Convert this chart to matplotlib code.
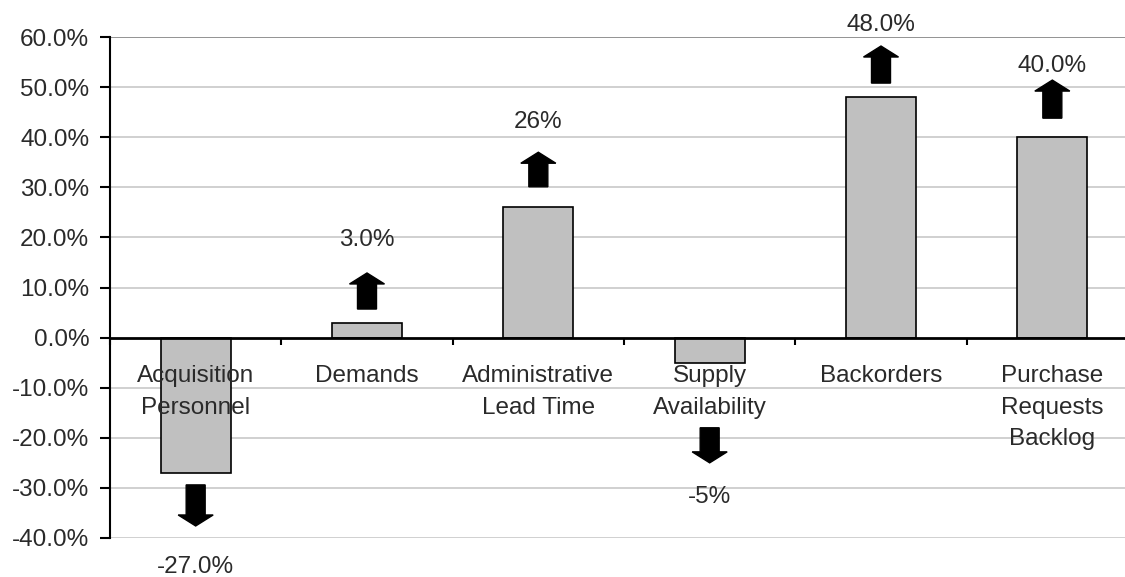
import matplotlib
matplotlib.use("Agg")
import matplotlib.pyplot as plt
from matplotlib.ticker import FuncFormatter

categories = ["Acquisition\nPersonnel", "Demands", "Administrative\nLead Time",
              "Supply\nAvailability", "Backorders", "Purchase\nRequests\nBacklog"]
values = [-27.0, 3.0, 26.0, -5.0, 48.0, 40.0]
arrow_start = [-29.4, 5.7, 30.1, -18.0, 50.8, 43.8]
arrow_end = [-37.6, 12.9, 37.0, -25.0, 58.2, 51.4]
label_pos = [-45.8, 19.5, 43.0, -31.9, 62.4, 54.2]
labels = ["-27.0%", "3.0%", "26%", "-5%", "48.0%", "40.0%"]
yticks = [-40, -30, -20, -10, 0, 10, 20, 30, 40, 50, 60]

plt.rcParams['font.family'] = ['Liberation Sans', 'DejaVu Sans']
FS = 17.5
TXT = '#2a2a2a'

W, H = 1125, 577
fig = plt.figure(figsize=(W / 100, H / 100), dpi=100)
left_px, right_px = 110, 1138
top_px, bot_px = 37, 538
ax = fig.add_axes([left_px / W, 1 - bot_px / H, (right_px - left_px) / W, (bot_px - top_px) / H])

x = list(range(len(categories)))
ax.set_xlim(-0.5, len(categories) - 0.5)
ax.set_ylim(-40, 60)

# gridlines behind bars
for t in yticks:
    if t == 0:
        continue
    col = '#808080' if t == 60 else '#c8c8c8'
    ax.axhline(t, color=col, lw=1.2, zorder=0)

ax.bar(x, values, width=0.41, color='#c0c0c0', edgecolor='black', linewidth=1.2, zorder=1)

# arrows
px_per_cat = (right_px - left_px) / len(categories)
px_per_pct = (bot_px - top_px) / 100.0
for xi, s, e in zip(x, arrow_start, arrow_end):
    ax.arrow(xi, s, 0, e - s, width=19 / px_per_cat, head_width=35 / px_per_cat,
             head_length=11 / px_per_pct, length_includes_head=True,
             color='black', zorder=3)

for xi, yp, lab in zip(x, label_pos, labels):
    ax.text(xi, yp, lab, ha='center', va='center', fontsize=FS, color=TXT,
            clip_on=False, zorder=4)

for sp in ['top', 'right']:
    ax.spines[sp].set_visible(False)
ax.spines['bottom'].set_position(('data', 0))
ax.spines['bottom'].set_linewidth(2)
ax.spines['left'].set_linewidth(1.5)

ax.set_yticks(yticks)
ax.yaxis.set_major_formatter(FuncFormatter(lambda v, p: f"{v:.1f}%"))
ax.tick_params(axis='y', length=7, width=1.5, pad=8, labelsize=FS, labelcolor=TXT)

ax.set_xticks(x)
ax.set_xticklabels(categories, fontsize=FS, color=TXT, linespacing=1.55)
ax.tick_params(axis='x', which='major', length=0, pad=20)
ax.set_xticks([i - 0.5 for i in range(len(categories) + 1)], minor=True)
ax.tick_params(axis='x', which='minor', length=5, width=1.5, direction='out')

fig.savefig("out.png", dpi=100)
